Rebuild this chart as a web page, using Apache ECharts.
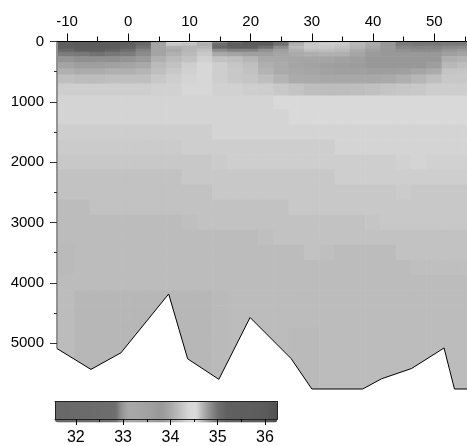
<!DOCTYPE html>
<html><head><meta charset="utf-8">
<script src="https://cdn.jsdelivr.net/npm/echarts@6/dist/echarts.min.js"></script>
<style>html,body{margin:0;padding:0;background:#fff}#c{width:467px;height:446px}</style>
</head><body><div id="c"></div>
<script>
// ---------------- data ----------------
const LATS = [-10,-7.5,-5,-2.5,0,2.5,5,7.5,10,12.5,15,17.5,20,22.5,25,27.5,30,32.5,35,37.5,40,42.5,45,47.5,50,52.5,55];
const DEPTHS = [0,50,100,150,200,300,400,500,600,800,1000,1250,1500,1750,2000,2250,2500,2750,3000,3250,3500,3750,4000,4250,4500,5000,5500];
// salinity, one array per latitude column (top to bottom, matching DEPTHS)
const SAL = [
 [35.5,35.7,35.6,35.1,34.94,34.81,34.75,34.70,34.64,34.59,34.57, 34.57,34.59,34.60,34.61,34.63,34.63,34.65,34.65,34.65,34.66,34.66,34.65,34.65,34.65,34.65,34.65],
 [35.9,36.0,35.9,35.4,34.96,34.84,34.77,34.72,34.65,34.59,34.57, 34.57,34.59,34.60,34.61,34.63,34.63,34.65,34.65,34.65,34.65,34.65,34.65,34.67,34.67,34.67,34.67],
 [35.9,36.0,35.9,35.4,34.99,34.84,34.77,34.72,34.65,34.59,34.57, 34.57,34.59,34.60,34.61,34.63,34.63,34.63,34.65,34.65,34.65,34.65,34.65,34.67,34.67,34.67,34.67],
 [35.9,35.9,35.9,35.15,34.96,34.84,34.76,34.70,34.64,34.59,34.57, 34.57,34.59,34.60,34.61,34.63,34.63,34.63,34.65,34.65,34.65,34.65,34.65,34.67,34.67,34.67,34.67],
 [35.4,35.4,35.18,35.03,34.94,34.82,34.75,34.70,34.64,34.59,34.57, 34.57,34.59,34.60,34.61,34.63,34.63,34.63,34.65,34.65,34.65,34.65,34.65,34.67,34.67,34.67,34.67],
 [35.15,35.09,34.99,34.91,34.86,34.79,34.73,34.68,34.64,34.59,34.57, 34.57,34.59,34.60,34.61,34.63,34.63,34.63,34.65,34.65,34.65,34.65,34.65,34.67,34.67,34.67,34.67],
 [34.81,34.75,34.75,34.75,34.75,34.70,34.66,34.64,34.61,34.58,34.57, 34.57,34.59,34.60,34.61,34.63,34.63,34.63,34.65,34.65,34.65,34.65,34.65,34.67,34.67,34.67,34.67],
 [34.39,34.27,34.70,34.73,34.70,34.66,34.63,34.61,34.59,34.58,34.57, 34.57,34.59,34.60,34.61,34.63,34.63,34.63,34.65,34.65,34.65,34.65,34.65,34.67,34.67,34.67,34.67],
 [34.39,34.22,34.68,34.68,34.66,34.63,34.59,34.58,34.57,34.56,34.57, 34.57,34.59,34.59,34.61,34.61,34.63,34.63,34.64,34.65,34.65,34.65,34.65,34.67,34.67,34.67,34.67],
 [34.18,34.70,34.68,34.64,34.61,34.58,34.56,34.56,34.56,34.56,34.57, 34.57,34.59,34.59,34.61,34.61,34.63,34.63,34.63,34.65,34.65,34.65,34.65,34.67,34.67,34.67,34.67],
 [34.86,35.03,35.09,34.86,34.73,34.63,34.59,34.59,34.59,34.58,34.57, 34.57,34.57,34.59,34.60,34.61,34.61,34.63,34.63,34.65,34.65,34.65,34.65,34.66,34.66,34.66,34.66],
 [35.03,35.4,35.4,34.91,34.75,34.64,34.62,34.61,34.61,34.58,34.57, 34.57,34.57,34.59,34.59,34.61,34.61,34.63,34.63,34.65,34.65,34.65,34.65,34.65,34.65,34.65,34.65],
 [35.4,36.0,35.4,34.91,34.77,34.68,34.64,34.63,34.62,34.59,34.57, 34.57,34.57,34.59,34.59,34.61,34.61,34.63,34.63,34.65,34.65,34.65,34.65,34.65,34.65,34.65,34.65],
 [35.4,35.9,35.03,34.84,34.77,34.73,34.06,34.10,34.18,34.31,34.57, 34.57,34.57,34.59,34.59,34.61,34.61,34.63,34.63,34.64,34.65,34.65,34.65,34.65,34.65,34.65,34.65],
 [35.03,34.99,34.86,34.77,33.96,34.00,34.02,34.03,34.10,34.27,34.45, 34.57,34.57,34.59,34.59,34.61,34.61,34.63,34.63,34.63,34.65,34.65,34.65,34.65,34.65,34.65,34.65],
 [34.81,34.70,34.66,34.70,34.02,33.96,33.96,34.00,34.03,34.23,34.45, 34.55,34.57,34.59,34.59,34.61,34.61,34.61,34.63,34.63,34.65,34.65,34.65,34.65,34.65,34.66,34.66],
 [34.68,34.61,34.61,34.64,34.06,33.96,33.93,33.96,34.02,34.18,34.45, 34.55,34.57,34.59,34.59,34.61,34.61,34.61,34.63,34.63,34.63,34.65,34.65,34.65,34.65,34.66,34.66],
 [34.63,34.59,34.61,34.64,34.08,33.96,33.90,33.93,34.00,34.17,34.45, 34.55,34.57,34.59,34.59,34.61,34.61,34.61,34.63,34.63,34.64,34.65,34.65,34.65,34.65,34.65,34.65],
 [34.61,34.61,34.63,34.66,34.06,33.93,33.88,33.90,34.00,34.17,34.45, 34.55,34.57,34.57,34.59,34.59,34.61,34.61,34.63,34.63,34.65,34.65,34.65,34.65,34.65,34.65,34.65],
 [34.14,34.14,34.10,34.03,33.96,33.88,33.85,33.90,34.00,34.18,34.45, 34.55,34.57,34.57,34.59,34.59,34.61,34.61,34.63,34.63,34.65,34.65,34.65,34.65,34.65,34.65,34.65],
 [34.02,34.02,33.96,33.90,33.84,33.80,33.80,33.88,34.00,34.20,34.45, 34.55,34.57,34.57,34.59,34.59,34.61,34.61,34.62,34.63,34.65,34.65,34.65,34.65,34.65,34.65,34.65],
 [33.80,33.80,33.80,33.80,33.80,33.80,33.80,33.88,34.02,34.23,34.45, 34.55,34.57,34.57,34.59,34.59,34.61,34.61,34.61,34.63,34.65,34.65,34.65,34.65,34.65,34.65,34.65],
 [32.89,32.89,32.92,32.96,33.80,33.80,33.80,33.90,34.06,34.25,34.45, 34.55,34.57,34.57,34.58,34.59,34.60,34.61,34.61,34.63,34.63,34.65,34.65,34.65,34.65,34.65,34.65],
 [32.87,32.88,32.91,32.94,33.80,33.80,33.80,33.96,34.12,34.27,34.45, 34.55,34.57,34.57,34.57,34.59,34.61,34.61,34.61,34.63,34.63,34.64,34.65,34.65,34.65,34.65,34.65],
 [32.87,32.88,32.91,32.94,33.80,33.80,33.88,34.03,34.18,34.31,34.45, 34.55,34.57,34.57,34.58,34.59,34.61,34.61,34.61,34.63,34.63,34.64,34.65,34.65,34.65,34.65,34.65],
 [32.88,32.89,32.93,32.99,33.90,34.06,34.14,34.23,34.27,34.31,34.45, 34.55,34.57,34.57,34.58,34.59,34.61,34.61,34.61,34.63,34.63,34.64,34.65,34.65,34.65,34.65,34.65],
 [32.89,32.89,32.94,33.84,33.96,34.10,34.18,34.25,34.27,34.31,34.45, 34.55,34.57,34.57,34.58,34.59,34.61,34.61,34.61,34.63,34.63,34.64,34.65,34.65,34.65,34.65,34.65]
];
// sea floor
const BATHY_LAT   = [-11.65,-6.1,-1.2,6.6,9.7,14.8,19.9,26.6,30.0,38.3,41.4,46.3,51.6,53.3,55.35];
const BATHY_DEPTH = [5090,5435,5160,4185,5260,5600,4575,5255,5760,5760,5590,5420,5080,5760,5760];
// axis ticks / labels
const X_MAJOR = [-10,0,10,20,30,40,50];
const X_MINOR = [-5,5,15,25,35,45,55];
const CB_MAJOR = [32,33,34,35,36];
const CB_MINOR = [32.5,33.5,34.5,35.5];

// ---------------- colour map (grey) ----------------
const CB_MIN = 31.56, CB_MAX = 36.26;
const CMAP = [[31.56,104],[32.0,106],[32.5,108],[32.85,110],[32.95,144],[33.1,168],[33.3,166],[33.6,160],[33.8,152],[34.0,168],[34.2,192],[34.4,216],[34.55,218],[34.65,188],[34.8,152],[35.0,112],[35.2,96],[36.0,92],[36.26,80]];
function greyAt(v){
  if (v<=CMAP[0][0]) return CMAP[0][1];
  for (let k=1;k<CMAP.length;k++){
    if (v<=CMAP[k][0]){ const a=CMAP[k-1], b=CMAP[k]; return a[1]+(b[1]-a[1])*(v-a[0])/(b[0]-a[0]); }
  }
  return CMAP[CMAP.length-1][1];
}
const CB_COLORS=[]; const NC=240;
for(let k=0;k<=NC;k++){ const g=Math.round(greyAt(CB_MIN+(CB_MAX-CB_MIN)*k/NC)); CB_COLORS.push('rgb('+g+','+g+','+g+')'); }

const fieldData=[];
LATS.forEach((lat,i)=>DEPTHS.forEach((d,j)=>fieldData.push([lat,d,SAL[i][j],i,j])));

const FONT='"Liberation Sans", Arial, sans-serif';
const X_MIN=-11.65, X_MAX=55.35, Y_MAX=5760;

function cellEdges(arr,k,lo,hi){
  const a = k>0 ? (arr[k-1]+arr[k])/2 : lo;
  const b = k<arr.length-1 ? (arr[k]+arr[k+1])/2 : hi;
  return [a,b];
}

const chart=echarts.init(document.getElementById('c'),null,{renderer:'canvas'});
chart.setOption({
  animation:false,
  backgroundColor:'#fff',
  grid:[
    {left:57,top:41.5,width:410,height:347.5},
    {left:55,top:401.5,width:222.3,height:21}
  ],
  xAxis:[
    {gridIndex:0,type:'value',position:'top',min:X_MIN,max:X_MAX,
     axisLine:{show:true,onZero:false,lineStyle:{color:'#000',width:1.2}},
     axisTick:{show:true,length:8,customValues:X_MAJOR,lineStyle:{color:'#000',width:1}},
     axisLabel:{show:true,customValues:X_MAJOR,margin:12,color:'#000',fontSize:15,fontFamily:FONT,formatter:v=>String(v)},
     splitLine:{show:false},z:3},
    {gridIndex:0,type:'value',position:'top',min:X_MIN,max:X_MAX,
     axisLine:{show:false,onZero:false},
     axisTick:{show:true,length:5,customValues:X_MINOR,lineStyle:{color:'#000',width:1}},
     axisLabel:{show:false},splitLine:{show:false},z:3},
    {gridIndex:1,type:'value',position:'bottom',min:CB_MIN,max:CB_MAX,
     axisLine:{show:true,onZero:false,lineStyle:{color:'#222',width:1}},
     axisTick:{show:true,length:6,customValues:CB_MAJOR,lineStyle:{color:'#000'}},
     axisLabel:{show:true,customValues:CB_MAJOR,margin:11,color:'#000',fontSize:16,fontFamily:FONT,formatter:v=>String(v)},
     splitLine:{show:false},z:10},
    {gridIndex:1,type:'value',position:'bottom',min:CB_MIN,max:CB_MAX,
     axisLine:{show:false,onZero:false},
     axisTick:{show:true,length:3,customValues:CB_MINOR,lineStyle:{color:'#000'}},
     axisLabel:{show:false},splitLine:{show:false},z:10},
    {gridIndex:1,type:'value',position:'top',min:CB_MIN,max:CB_MAX,
     axisLine:{show:true,onZero:false,lineStyle:{color:'#222',width:1}},
     axisTick:{show:false},axisLabel:{show:false},splitLine:{show:false},z:10}
  ],
  yAxis:[
    {gridIndex:0,type:'value',inverse:true,min:0,max:Y_MAX,interval:1000,
     axisLine:{show:true,onZero:false,lineStyle:{color:'#707070',width:1.5}},
     axisTick:{show:true,length:7,lineStyle:{color:'#333'}},
     minorTick:{show:true,splitNumber:2,length:3,lineStyle:{color:'#333'}},
     axisLabel:{show:true,showMaxLabel:false,margin:13,color:'#000',fontSize:15,fontFamily:FONT,formatter:v=>String(v)},
     splitLine:{show:false},minorSplitLine:{show:false},z:3},
    {gridIndex:1,type:'value',position:'left',min:0,max:1,
     axisLine:{show:true,onZero:false,lineStyle:{color:'#222',width:1}},
     axisTick:{show:false},axisLabel:{show:false},splitLine:{show:false},z:10},
    {gridIndex:1,type:'value',position:'right',min:0,max:1,
     axisLine:{show:true,onZero:false,lineStyle:{color:'#222',width:1}},
     axisTick:{show:false},axisLabel:{show:false},splitLine:{show:false},z:10}
  ],
  visualMap:{
    type:'continuous',seriesIndex:0,dimension:2,min:CB_MIN,max:CB_MAX,
    orient:'horizontal',left:55,top:401.5,itemWidth:21,itemHeight:222.3,
    calculable:false,hoverLink:false,padding:0,text:null,showLabel:false,
    inRange:{color:CB_COLORS}
  },
  series:[
    {type:'custom',xAxisIndex:0,yAxisIndex:0,z:2,data:fieldData,silent:true,
     renderItem:function(params,api){
       const i=api.value(3), j=api.value(4);
       const ex=cellEdges(LATS,i,X_MIN-1,X_MAX+1);
       const ey=cellEdges(DEPTHS,j,0,Y_MAX);
       const p0=api.coord([ex[0],ey[0]]), p1=api.coord([ex[1],ey[1]]);
       const cs=params.coordSys;
       const r={x:Math.min(p0[0],p1[0])-0.3,y:Math.min(p0[1],p1[1])-0.3,
                width:Math.abs(p1[0]-p0[0])+0.6,height:Math.abs(p1[1]-p0[1])+0.6};
       const c=echarts.graphic.clipRectByRect(r,{x:cs.x+0.75,y:cs.y,width:cs.width-0.75,height:cs.height});
       if(!c) return;
       return {type:'rect',shape:c,style:{fill:api.visual('color')}};
     }},
    {type:'custom',xAxisIndex:0,yAxisIndex:0,z:6,data:[[0,0]],silent:true,
     renderItem:function(params,api){
       const pts=BATHY_LAT.map((x,k)=>api.coord([x,BATHY_DEPTH[k]]));
       const cs=params.coordSys, bottom=cs.y+cs.height;
       const n=pts.length;
       const poly=pts.concat([[pts[n-1][0]+2,bottom+4],[pts[0][0]-9,bottom+4],[pts[0][0]-9,pts[0][1]]]);
       return {type:'group',children:[
         {type:'polygon',shape:{points:poly},style:{fill:'#fff'}},
         {type:'polyline',shape:{points:pts},style:{stroke:'#000',lineWidth:1,fill:null}}
       ]};
     }}
  ]
});
</script></body></html>
